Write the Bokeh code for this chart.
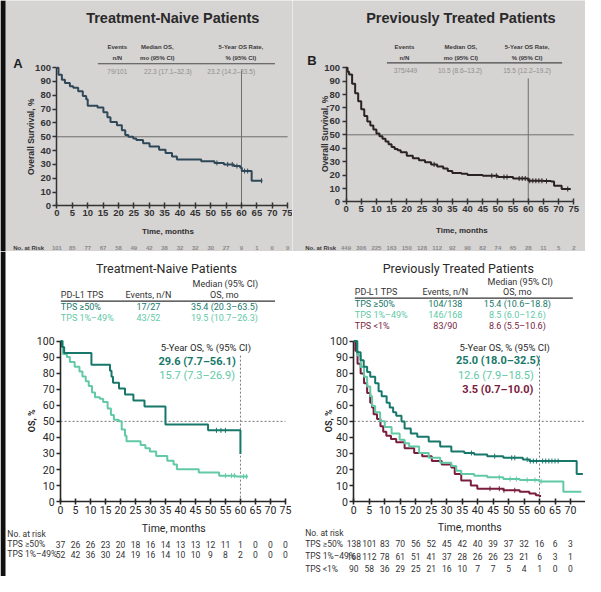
import numpy as np
from bokeh.plotting import figure
from bokeh.models import Label, Range1d, FixedTicker, BoxAnnotation
from bokeh.layouts import row, column
from bokeh.embed import file_html
from bokeh.resources import INLINE

# ---------------- data ----------------
months_ticks = list(range(0, 80, 5))
survival_ticks = list(range(0, 110, 10))
five_year = 60
median_level = 50

# Panel A: treatment-naive, all patients
naive_t = [0, 0.5, 1.6, 2.6, 4.2, 5.3, 6.9, 8.4, 9.5, 10.0, 13.2, 15.1, 16.4, 17.4, 19.5, 21.1, 22.2, 23.2,
           24.8, 25.8, 28.0, 30.1, 33.2, 35.3, 37.4, 39.0, 46.9, 51.2, 54.3, 57.5, 59.6, 60.1, 63.3, 66.8]
naive_s = [100, 94.8, 91.3, 88.9, 86.6, 85.4, 83.0, 79.5, 77.1, 72.4, 71.2, 67.7, 64.2, 60.6, 58.3, 54.7, 51.2, 50.0,
           48.8, 47.6, 45.3, 42.9, 40.6, 38.2, 35.8, 33.5, 32.3, 31.1, 30.0, 28.8, 27.6, 25.2, 18.2, 18.2]
naive_cens = [52, 55.5, 57, 58.5, 61, 62, 66.5]
naive_at_risk = [101, 85, 77, 67, 58, 49, 42, 38, 32, 32, 30, 27, 9, 1, 0, 0]
naive_head = [("Events", "n/N"), ("Median OS,", "mo (95% CI)"), ("5-Year OS Rate,", "% (95% CI)")]
naive_row = ["79/101", "22.3 (17.1–32.3)", "23.2 (14.2–33.5)"]

# Panel B: previously treated, all patients
prev_t = [0, 0.5, 1, 2, 3, 4, 5, 6, 7, 8, 9, 10, 11, 12, 13, 14, 15, 16, 17, 18,
          20, 22, 24, 26, 28, 30, 32, 33.5, 35, 38, 40, 45, 50, 55, 60, 65, 67.5, 68.5, 71, 74]
prev_s = [100, 97, 95, 88, 81, 75, 69, 64, 60, 57, 54, 51, 49, 47, 45, 43, 41, 39.5, 38.5, 37,
          34.5, 32.5, 31, 29.5, 28, 26.5, 25, 23, 21.5, 21, 20, 19.5, 18.6, 17.5, 15.8, 15.6, 15.3, 12, 9.7, 9.7]
prev_cens = [29, 48, 49.5, 52, 53, 57, 58, 59, 60.5, 61.5, 62.5, 63.5, 64.5, 66, 73]
prev_at_risk = [449, 306, 225, 163, 150, 128, 112, 92, 90, 82, 74, 65, 28, 11, 5, 2]
prev_head = naive_head
prev_row = ["375/449", "10.5 (8.6–13.2)", "15.5 (12.2–19.2)"]

# Panel C: treatment-naive by PD-L1 TPS
naive_groups = ["TPS ≥50%", "TPS 1%–49%"]
naive_events = ["17/27", "43/52"]
naive_median = ["35.4 (20.3–63.5)", "19.5 (10.7–26.3)"]
naive_5y = ["29.6 (7.7–56.1)", "15.7 (7.3–26.9)"]
naive_hi_t = [0, 0.5, 1.2, 10.3, 16.5, 17.0, 17.5, 19.5, 21.5, 24.3, 28.0, 35.0, 49.2, 60.0]
naive_hi_s = [100, 96.3, 92.6, 85.2, 81.5, 77.8, 74.1, 70.4, 66.7, 63.0, 59.3, 48.1, 44.4, 29.6]
naive_hi_cens = [52, 53.5, 55]
naive_lo_t = [0, 0.8, 2.1, 3.1, 4.7, 6.3, 7.3, 8.4, 9.4, 10.5, 11.5, 13.1, 14.2, 15.7, 16.8, 17.8, 19.4, 20.4,
              21.5, 22.0, 26.7, 28.3, 29.8, 31.9, 35.6, 37.7, 38.8, 46.1, 52.9, 58.5, 62.5]
naive_lo_s = [100, 92, 90, 87, 84, 81, 78, 75, 72, 68, 65, 64, 62, 58, 54, 51, 50, 45,
              41, 37.6, 35.3, 33.3, 31.3, 28.5, 25.4, 23.2, 20.2, 18.2, 16.2, 15.7, 15.7]
naive_lo_cens = [55, 57, 58, 61, 62]
naive_hi_risk = [37, 26, 26, 23, 20, 18, 16, 14, 13, 13, 12, 11, 1, 0, 0, 0]
naive_lo_risk = [52, 42, 36, 30, 24, 19, 16, 14, 10, 10, 9, 8, 2, 0, 0, 0]

# Panel D: previously treated by PD-L1 TPS
prev_groups = ["TPS ≥50%", "TPS 1%–49%", "TPS <1%"]
prev_events = ["104/138", "146/168", "83/90"]
prev_median = ["15.4 (10.6–18.8)", "8.5 (6.0–12.6)", "8.6 (5.5–10.6)"]
prev_5y = ["25.0 (18.0–32.5)", "12.6 (7.9–18.5)", "3.5 (0.7–10.0)"]
prev_hi_t = [0, 1.0, 2.2, 3.2, 4.3, 5.3, 6.9, 8.0, 9.0, 10.6, 11.6, 12.7, 13.7, 15.4, 16.4, 18.4, 20.5, 24.2,
             27.9, 31.5, 35.7, 38.9, 43.1, 48.3, 54.6, 56.7, 72.0, 74.0]
prev_hi_s = [100, 93, 88, 84, 80.8, 77.8, 73.7, 68.7, 65.7, 61.6, 58.6, 55.6, 53.5, 49.9, 45.5, 42.4, 40.4, 37.4,
             34.3, 31.3, 30.3, 29.3, 28.3, 27.3, 26.3, 25.3, 17.2, 17.2]
prev_hi_cens = [38, 45.5, 51, 52, 56, 57, 58, 59, 61, 62, 63, 64, 65, 66]
prev_mid_t = [0, 1.2, 2.2, 3.3, 4.3, 5.3, 5.9, 6.9, 8.5, 10.0, 12.2, 14.8, 16.4, 17.9, 21.1, 24.2, 27.9, 31.5,
              33.1, 34.7, 38.9, 43.1, 48.3, 53.6, 59.9, 67.7, 73.5]
prev_mid_s = [100, 91, 83.8, 77.8, 71.7, 65.6, 59.6, 55.6, 50.0, 46.5, 42.4, 38.5, 36.4, 34.3, 30.3, 27.3, 24.2, 22.2,
              19.2, 17.2, 16.2, 15.2, 14.1, 13.5, 12.6, 6.1, 6.1]
prev_mid_cens = [47, 50.5, 52.5, 56, 58.5, 60.5]
prev_lo_t = [0, 0.5, 1.2, 2.2, 3.3, 4.3, 5.3, 5.9, 6.4, 7.5, 8.6, 9.5, 10.5, 12.0, 13.7, 16.4, 19.5, 22.1, 25.2,
             28.4, 31.5, 32.6, 34.7, 37.8, 39.9, 48.3, 53.6, 56.7, 58.8, 59.9, 60.5]
prev_lo_s = [100, 94, 85.9, 79.8, 73.7, 67.7, 61.6, 58.6, 54.5, 51.5, 47.0, 43.5, 41.0, 39.0, 37.0, 33.3, 30.3, 28.3, 25.3,
             23.2, 21.2, 17.2, 13.1, 10.1, 8.1, 7.1, 6.1, 5.1, 4.0, 3.5, 3.5]
prev_lo_cens = [44, 47, 48.5, 52]
prev_hi_risk = [138, 101, 83, 70, 56, 52, 45, 42, 40, 39, 37, 32, 16, 6, 3]
prev_mid_risk = [168, 112, 78, 61, 51, 41, 37, 28, 26, 26, 23, 21, 6, 3, 1]
prev_lo_risk = [90, 58, 36, 29, 25, 21, 16, 10, 7, 7, 5, 4, 1, 0, 0]

# ---------------- styles ----------------
SANS = "Liberation Sans"
NARROW = "Roboto"
PHOTO_BG = "#d6d3d3"
NAIVE_COL = "#2f4858"
PREV_COL = "#2b2222"
TEAL_DARK = "#17776a"
TEAL_LIGHT = "#62c9a6"
MAROON = "#7a1c3e"
S = 585 / 601.0

# panel geometry in reference pixels: box, origin of the data axes and pixels per unit
PANELS = {
    "A": dict(box=(0, 0, 300, 258), x0=58, ppx=3.16, y0=211, ppy=1.42, out=(292, 251)),
    "B": dict(box=(300, 0, 601, 258), x0=355, ppx=3.12, y0=207, ppy=1.38, out=(293, 251)),
    "C": dict(box=(0, 258, 300, 592), x0=61.7, ppx=3.08, y0=515, ppy=1.65, out=(292, 325)),
    "D": dict(box=(300, 258, 601, 592), x0=363, ppx=3.18, y0=515, ppy=1.65, out=(293, 325)),
}


def make_fig(P, bg):
    W, H = P["out"]
    bx0, by0, bx1, by1 = P["box"]
    kx = S * P["ppx"]
    ky = S * P["ppy"]
    xs = (bx0 - P["x0"]) / P["ppx"]
    xe = xs + W / kx
    ye = (P["y0"] - by0) / P["ppy"]
    ys = ye - H / ky
    p = figure(frame_width=W, frame_height=H, min_border=0,
               x_range=Range1d(xs, xe), y_range=Range1d(ys, ye),
               output_backend="svg", toolbar_location=None,
               background_fill_color=bg, border_fill_color=bg)
    p.outline_line_color = None
    p.grid.visible = False
    p.xaxis.fixed_location = 0
    p.yaxis.fixed_location = 0
    p.xaxis.bounds = (months_ticks[0], months_ticks[-1])
    p.yaxis.bounds = (survival_ticks[0], survival_ticks[-1])
    p.xaxis.ticker = FixedTicker(ticks=months_ticks)
    p.yaxis.ticker = FixedTicker(ticks=survival_ticks)
    return p


def style_axes(p, font, size, color, bold, width):
    for ax in (p.xaxis[0], p.yaxis[0]):
        ax.axis_line_color = color
        ax.axis_line_width = width
        ax.major_tick_line_color = color
        ax.major_tick_line_width = width
        ax.minor_tick_line_color = None
        ax.major_label_text_font = font
        ax.major_label_text_font_size = f"{size}px"
        ax.major_label_text_font_style = "bold" if bold else "normal"
        ax.major_label_text_color = color
        ax.axis_label = None
    p.xaxis.major_tick_in = 3
    p.xaxis.major_tick_out = 3
    p.xaxis.major_label_standoff = 1
    p.yaxis.major_tick_in = 0
    p.yaxis.major_tick_out = 4
    p.yaxis.major_label_standoff = 2


def left_strip(p):
    p.add_layout(BoxAnnotation(left=0, right=5, left_units="screen", right_units="screen",
                               fill_color="#101010", fill_alpha=1.0, line_color=None))


def to_data(P, rx, ry):
    return (rx - P["x0"]) / P["ppx"], (P["y0"] - ry) / P["ppy"]


def txt(p, P, rx, ry, text, size, color="#222222", bold=False, align="center", font=SANS, angle=0.0):
    x, y = to_data(P, rx, ry)
    p.add_layout(Label(x=x, y=y, text=text, text_font=font, text_font_size=f"{size}px",
                       text_font_style="bold" if bold else "normal", text_color=color,
                       text_align=align, text_baseline="middle", angle=angle))


def rule(p, P, rx1, rx2, ry, color, width):
    x1, y = to_data(P, rx1, ry)
    x2, _ = to_data(P, rx2, ry)
    p.line([x1, x2], [y, y], line_color=color, line_width=width)


def at_risk(p, P, counts, ry, size, color, font, bold=False):
    _, y = to_data(P, 0, ry)
    for m, n in zip(months_ticks, counts):
        p.add_layout(Label(x=m, y=y, text=str(n), text_font=font, text_font_size=f"{size}px",
                           text_font_style="bold" if bold else "normal", text_color=color,
                           text_align="center", text_baseline="middle"))


def km(p, t, s, cens, color, width=2.0):
    p.step(t, s, mode="after", line_color=color, line_width=width)
    ta = np.array(t)
    sa = np.array(s)
    idx = np.searchsorted(ta, np.array(cens), side="right") - 1
    p.scatter(cens, sa[idx], marker="dash", angle=np.pi / 2, size=5, line_color=color, line_width=1)


# ---------------- Panel A ----------------
PA = PANELS["A"]
fa = make_fig(PA, PHOTO_BG)
left_strip(fa)
style_axes(fa, SANS, 9.5, "#333333", True, 1.5)
fa.line([0, 75], [median_level, median_level], line_color="#6f6f6f", line_width=1)
fa.line([five_year, five_year], [0, 98], line_color="#6f6f6f", line_width=1)
km(fa, naive_t, naive_s, naive_cens, NAIVE_COL, 2.0)
txt(fa, PA, 177, 18, "Treatment-Naive Patients", 14.5, "#2a2a2a", True)
txt(fa, PA, 18, 65, "A", 13, "#1e1e1e", True)
for cx, (h1, h2) in zip([120, 161, 247], naive_head):
    txt(fa, PA, cx, 48, h1, 6, "#3a3a3a", True)
    txt(fa, PA, cx, 59, h2, 6, "#3a3a3a", True)
rule(fa, PA, 100, 282, 65, "#4a4a4a", 1.2)
for cx, v in zip([120, 172, 237], naive_row):
    txt(fa, PA, cx, 73, v, 6.5, "#8e8e8e")
txt(fa, PA, 172, 237, "Time, months", 8, "#2e2e2e", True)
txt(fa, PA, 31, 140, "Overall Survival, %", 8.5, "#2e2e2e", True, angle=np.pi / 2)
txt(fa, PA, 13, 254, "No. at Risk", 6, "#3a3a3a", True, align="left")
at_risk(fa, PA, naive_at_risk, 254, 6, "#8a8a8a", SANS, True)

# ---------------- Panel B ----------------
PB = PANELS["B"]
fb = make_fig(PB, PHOTO_BG)
style_axes(fb, SANS, 9.5, "#333333", True, 1.5)
fb.line([0, 75], [median_level, median_level], line_color="#6f6f6f", line_width=1)
fb.line([five_year, five_year], [0, 92], line_color="#6f6f6f", line_width=1)
km(fb, prev_t, prev_s, prev_cens, PREV_COL, 2.0)
txt(fb, PB, 473, 18, "Previously Treated Patients", 14.5, "#2a2a2a", True)
txt(fb, PB, 320, 62, "B", 13, "#1e1e1e", True)
for cx, (h1, h2) in zip([415, 473, 541], prev_head):
    txt(fb, PB, cx, 48, h1, 6, "#3a3a3a", True)
    txt(fb, PB, cx, 59, h2, 6, "#3a3a3a", True)
rule(fb, PB, 397, 577, 64, "#4a4a4a", 1.2)
for cx, v in zip([416, 472, 541], prev_row):
    txt(fb, PB, cx, 72, v, 6.5, "#8e8e8e")
txt(fb, PB, 474, 236, "Time, months", 8, "#2e2e2e", True)
txt(fb, PB, 333, 137, "Overall Survival, %", 8.5, "#2e2e2e", True, angle=np.pi / 2)
txt(fb, PB, 313, 254, "No. at Risk", 6, "#3a3a3a", True, align="left")
at_risk(fb, PB, prev_at_risk, 254, 6, "#8a8a8a", SANS, True)

# ---------------- Panel C ----------------
PC = PANELS["C"]
fc = make_fig(PC, "white")
left_strip(fc)
style_axes(fc, NARROW, 10.5, "#262626", False, 1.6)
fc.line([0, 75], [median_level, median_level], line_color="#777777", line_width=1, line_dash="2 2")
fc.line([five_year, five_year], [0, 92], line_color="#777777", line_width=1, line_dash="2 2")
km(fc, naive_lo_t, naive_lo_s, naive_lo_cens, TEAL_LIGHT, 2.0)
km(fc, naive_hi_t, naive_hi_s, naive_hi_cens, TEAL_DARK, 2.0)
txt(fc, PC, 172, 275, "Treatment-Naive  Patients", 12.5, "#2a2a2a", False, font=NARROW)
txt(fc, PC, 231, 291, "Median (95% CI)", 9, "#333333", font=NARROW)
txt(fc, PC, 62, 303, "PD-L1 TPS", 9, "#333333", align="left", font=NARROW)
txt(fc, PC, 152, 303, "Events, n/N", 9, "#333333", font=NARROW)
txt(fc, PC, 230, 303, "OS, mo", 9, "#333333", font=NARROW)
rule(fc, PC, 62, 282, 309, "#333333", 1.2)
for i, col in enumerate([TEAL_DARK, TEAL_LIGHT]):
    ry = 315 + i * 11
    txt(fc, PC, 62, ry, naive_groups[i], 9, col, align="left", font=NARROW)
    txt(fc, PC, 152, ry, naive_events[i], 9, col, font=NARROW)
    txt(fc, PC, 230, ry, naive_median[i], 9, col, font=NARROW)
txt(fc, PC, 211, 357, "5-Year OS, % (95% CI)", 9.5, "#2a2a2a", font=NARROW)
txt(fc, PC, 202, 371, naive_5y[0], 11, TEAL_DARK, True, font=NARROW)
txt(fc, PC, 202, 385, naive_5y[1], 11, TEAL_LIGHT, False, font=NARROW)
txt(fc, PC, 178, 543, "Time, months", 10.5, "#262626", font=NARROW)
txt(fc, PC, 32, 432, "OS, %", 9, "#262626", True, font=NARROW, angle=np.pi / 2)
txt(fc, PC, 7, 548, "No. at risk", 8.5, "#333333", align="left", font=NARROW)
txt(fc, PC, 7, 559, naive_groups[0], 8.5, "#333333", align="left", font=NARROW)
txt(fc, PC, 7, 569, naive_groups[1], 8.5, "#333333", align="left", font=NARROW)
at_risk(fc, PC, naive_hi_risk, 559, 8.5, "#333333", NARROW)
at_risk(fc, PC, naive_lo_risk, 569, 8.5, "#333333", NARROW)

# ---------------- Panel D ----------------
PD = PANELS["D"]
fd = make_fig(PD, "white")
style_axes(fd, NARROW, 10.5, "#262626", False, 1.6)
fd.line([0, 75], [median_level, median_level], line_color="#777777", line_width=1, line_dash="2 2")
fd.line([five_year, five_year], [0, 92], line_color="#777777", line_width=1, line_dash="2 2")
km(fd, prev_lo_t, prev_lo_s, prev_lo_cens, MAROON, 2.0)
km(fd, prev_mid_t, prev_mid_s, prev_mid_cens, TEAL_LIGHT, 2.0)
km(fd, prev_hi_t, prev_hi_s, prev_hi_cens, TEAL_DARK, 2.0)
txt(fd, PD, 472, 275, "Previously  Treated Patients", 12.5, "#2a2a2a", False, font=NARROW)
txt(fd, PD, 534, 289, "Median (95% CI)", 9, "#333333", font=NARROW)
txt(fd, PD, 364, 300, "PD-L1 TPS", 9, "#333333", align="left", font=NARROW)
txt(fd, PD, 457, 300, "Events, n/N", 9, "#333333", font=NARROW)
txt(fd, PD, 531, 300, "OS, mo", 9, "#333333", font=NARROW)
rule(fd, PD, 364, 588, 306, "#333333", 1.2)
for i, col in enumerate([TEAL_DARK, TEAL_LIGHT, MAROON]):
    ry = 312 + i * 11.5
    txt(fd, PD, 364, ry, prev_groups[i], 9, col, align="left", font=NARROW)
    txt(fd, PD, 457, ry, prev_events[i], 9, col, font=NARROW)
    txt(fd, PD, 531, ry, prev_median[i], 9, col, font=NARROW)
txt(fd, PD, 518, 357, "5-Year OS, % (95% CI)", 9.5, "#2a2a2a", font=NARROW)
txt(fd, PD, 511, 370, prev_5y[0], 11, TEAL_DARK, True, font=NARROW)
txt(fd, PD, 509, 385, prev_5y[1], 11, TEAL_LIGHT, False, font=NARROW)
txt(fd, PD, 511, 400, prev_5y[2], 11, MAROON, True, font=NARROW)
txt(fd, PD, 482, 542, "Time, months", 10.5, "#262626", font=NARROW)
txt(fd, PD, 337, 432, "OS, %", 9, "#262626", True, font=NARROW, angle=np.pi / 2)
txt(fd, PD, 313, 547, "No. at risk", 8.5, "#333333", align="left", font=NARROW)
for i, (cnt, ry) in enumerate(zip([prev_hi_risk, prev_mid_risk, prev_lo_risk], [558, 571, 584])):
    txt(fd, PD, 313, ry, prev_groups[i], 8.5, "#333333", align="left", font=NARROW)
    at_risk(fd, PD, cnt, ry, 8.5, "#333333", NARROW)

layout = column(row(fa, fb), row(fc, fd))
open("out.html", "w", encoding="utf-8").write(file_html(layout, INLINE))
